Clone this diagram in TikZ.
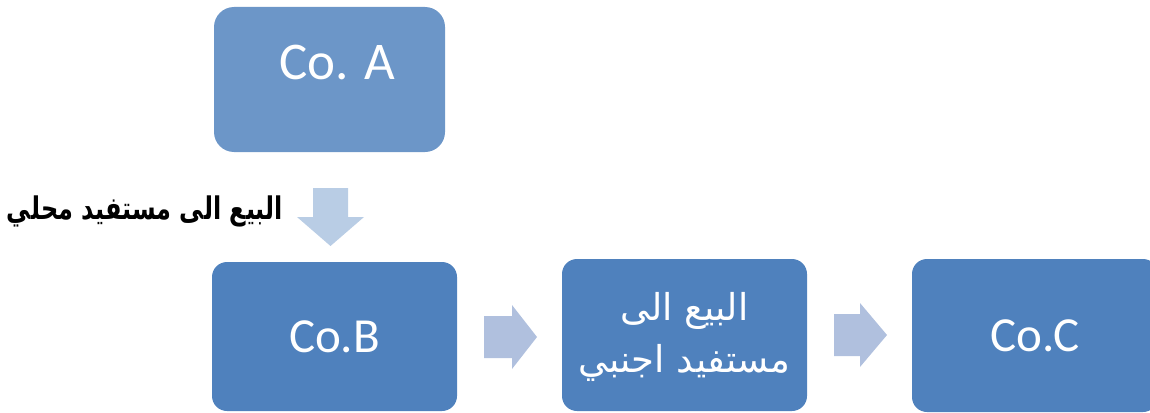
\documentclass[tikz,border=0pt]{standalone}
\usepackage{fontspec}
\usepackage{graphicx}
\setmainfont{Carlito}
\newfontfamily\arabicfont[Script=Arabic]{DejaVu Sans}
\TeXXeTstate=1
\definecolor{boxblue}{RGB}{79,129,189}
\definecolor{boxlight}{RGB}{108,150,200}
\definecolor{arrowblue}{RGB}{176,192,222}
\definecolor{arrowdown}{RGB}{185,205,229}
\tikzset{
  box/.style={fill=boxblue, draw=none, rounded corners=15pt, minimum width=245pt, minimum height=150pt, inner sep=0pt, text=white, font=\fontsize{49}{52}\selectfont},
  boxtop/.style={box, fill=boxlight, rounded corners=20pt, minimum width=231pt, minimum height=145pt},
  blockarrow/.style={fill=arrowblue, draw=none},
  downarrow/.style={fill=arrowdown, draw=none},
  arlabel/.style={text=black, font=\arabicfont\bfseries\fontsize{24}{28}\selectfont, inner sep=0pt},
  arwhite/.style={text=white, align=center, font=\arabicfont\fontsize{37}{52}\selectfont, inner sep=0pt}
}
\begin{document}
\begin{tikzpicture}[x=1pt,y=-1pt]
\useasboundingbox (0,0) rectangle (1150,412);
% boxes
\node[boxtop] (A) at (329.5,79.5) {};
\node[text=white, font=\fontsize{53}{56}\selectfont, inner sep=0pt] (Atext) at ([shift={(8,-17)}]A.center) {Co. A};
\node[box, minimum height=149pt] (B) at (334.5,336.5) {Co.B};
\node[box, minimum height=152pt] (M) at (684.5,335) {};
\node[box, minimum height=153pt, minimum width=246pt] (C) at (1035,335.5) {Co.C};
\node[arwhite] (Mtext) at ([shift={(0,2)}]M.center) {\beginR البيع الى\endR\\\beginR مستفيد اجنبي\endR};
% block arrows (start points)
\coordinate (d1) at (330.5,188);
\coordinate (r1) at (484,337);
\coordinate (r2) at (834,335);
\fill[downarrow] ([shift={(-17.5,0)}]d1) -- ++(35,0) -- ++(0,29) -- ++(16,0) -- ([shift={(0,58)}]d1) -- ([shift={(-33.5,29)}]d1) -- ++(16,0) -- cycle;
\fill[blockarrow] ([shift={(0,-21)}]r1) -- ++(28,0) -- ++(0,-11) -- ([shift={(53,0)}]r1) -- ([shift={(28,32)}]r1) -- ++(0,-11) -- ([shift={(0,21)}]r1) -- cycle;
\fill[blockarrow] ([shift={(0,-21)}]r2) -- ++(26,0) -- ++(0,-11) -- ([shift={(53,0)}]r2) -- ([shift={(26,32)}]r2) -- ++(0,-11) -- ([shift={(0,21)}]r2) -- cycle;
% label
\node[arlabel] (lbl) at (145,211) {\scalebox{1}[1.3]{\beginR البيع الى مستفيد محلي\endR}};
\end{tikzpicture}
\end{document}
